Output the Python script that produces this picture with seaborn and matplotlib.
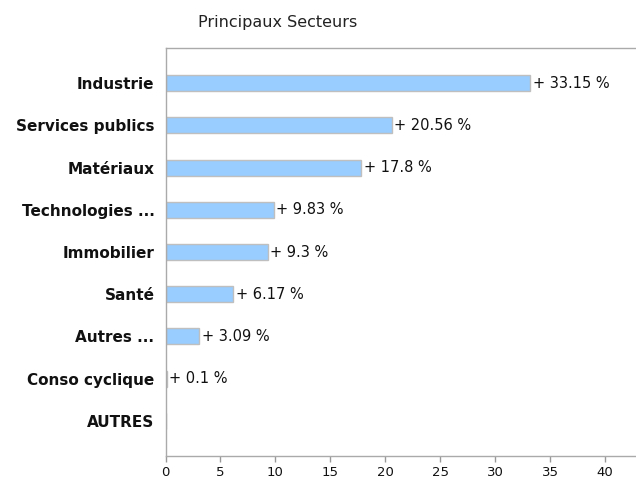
import matplotlib
matplotlib.use("Agg")
import matplotlib.pyplot as plt
import seaborn as sns
import pandas as pd

sectors = ["Industrie", "Services publics", "Matériaux", "Technologies ...",
           "Immobilier", "Santé", "Autres ...", "Conso cyclique", "AUTRES"]
weights = [33.15, 20.56, 17.8, 9.83, 9.3, 6.17, 3.09, 0.1, 0.0]
labels = ["+ 33.15 %", "+ 20.56 %", "+ 17.8 %", "+ 9.83 %", "+ 9.3 %",
          "+ 6.17 %", "+ 3.09 %", "+ 0.1 %", ""]
x_ticks = [0, 5, 10, 15, 20, 25, 30, 35, 40]

df = pd.DataFrame({"secteur": sectors, "poids": weights})

sns.set_style("white")
plt.rcParams["font.family"] = ["DejaVu Sans"]

fig = plt.figure(figsize=(6.36, 4.79), dpi=100)
ax = fig.add_axes([165.5 / 636, 1 - 456 / 479, (636 - 165.5) / 636, 408 / 479])

sns.barplot(data=df, x="poids", y="secteur", orient="h", ax=ax,
            color="#99ccff", edgecolor="#bfbfbf", linewidth=1.0,
            width=0.38, saturation=1)

for i, (v, lab) in enumerate(zip(weights, labels)):
    if lab:
        ax.text(v + 0.25, i, lab, va="center", ha="left", fontsize=10.5,
                color="#111111")

ax.set_xlim(0, 42.8)
ax.set_ylim(8.83, -0.83)
ax.set_xticks(x_ticks)
ax.set_xticklabels([str(t) for t in x_ticks], fontsize=9.5, color="#111111")
ax.set_xlabel("")
ax.set_ylabel("")
ax.tick_params(axis="x", length=4, width=1, color="#999999", pad=3,
               direction="out", bottom=True)
ax.tick_params(axis="y", length=0, pad=8)
for t in ax.get_yticklabels():
    t.set_fontweight("bold")
    t.set_fontsize(11)
    t.set_color("#111111")

for side in ["left", "bottom", "top"]:
    ax.spines[side].set_visible(True)
    ax.spines[side].set_color("#aaaaaa")
    ax.spines[side].set_linewidth(1.0)
ax.spines["right"].set_visible(False)

fig.text(278 / 636, 1 - 22 / 479, "Principaux Secteurs", ha="center",
         va="center", fontsize=11.5, color="#222222")

fig.savefig("out.png", dpi=100)
